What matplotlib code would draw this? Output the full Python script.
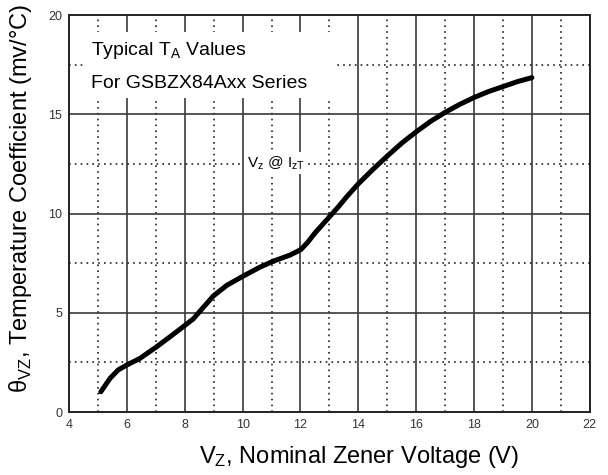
import matplotlib
matplotlib.use('Agg')
import matplotlib.pyplot as plt
from matplotlib.patches import Rectangle
import numpy as np

plt.rcParams['font.family'] = ['Liberation Sans', 'DejaVu Sans']

# curve
vz = [5.10, 5.42, 5.70, 6.0, 6.45, 7.03, 7.49, 8.02, 8.30, 8.55, 8.99, 9.45, 10.02,
      10.60, 11.06, 11.64, 12.01, 12.25, 12.50, 12.90, 13.31, 13.6, 14.0, 14.5, 15.0,
      15.5, 16.0, 16.5, 17.0, 17.5, 18.0, 18.5, 19.0, 19.5, 20.0]
theta = [1.02, 1.70, 2.12, 2.37, 2.70, 3.29, 3.79, 4.38, 4.70, 5.12, 5.85, 6.38, 6.85,
         7.30, 7.60, 7.91, 8.18, 8.55, 9.02, 9.67, 10.34, 10.85, 11.50, 12.22, 12.9,
         13.55, 14.12, 14.65, 15.1, 15.5, 15.85, 16.15, 16.4, 16.65, 16.85]

x_major = [6, 8, 10, 12, 14, 16, 18, 20]
x_minor = [5, 7, 9, 11, 13, 15, 17, 19, 21]
y_major = [5, 10, 15]
y_minor = [2.5, 7.5, 12.5, 17.5]

fig = plt.figure(figsize=(6.08, 4.75), dpi=100)
ax = fig.add_axes([0.1135, 0.1326, 0.8565, 0.8355])
ax.set_xlim(4, 22)
ax.set_ylim(0, 20)

for x in x_major:
    ax.axvline(x, color='#3a3a3a', lw=1.2, zorder=1)
for x in x_minor:
    ax.axvline(x, color='#222222', lw=1.2, ls=(0, (1, 2.5)), zorder=1)
for y in y_major:
    ax.axhline(y, color='#3a3a3a', lw=1.2, zorder=1)
for y in y_minor:
    ax.axhline(y, color='#222222', lw=1.2, ls=(0, (1, 2.5)), zorder=1)

ax.plot(vz, theta, color='black', lw=3.6, solid_capstyle='round',
        solid_joinstyle='round', zorder=3)

ax.set_xticks(np.arange(4, 23, 2))
ax.set_yticks([0, 5, 10, 15, 20])
ax.tick_params(length=0, labelsize=9, labelcolor='#333333', pad=5)
for s in ax.spines.values():
    s.set_linewidth(1.4)
    s.set_color('#222222')

# white area behind the note
ax.add_patch(Rectangle((4.5, 15.85), 8.75, 3.3, facecolor='white', edgecolor='none', zorder=2))
ax.text(4.75, 18.2, r'Typical T$_\mathregular{A}$ Values', fontsize=14,
        va='center', ha='left', zorder=4)
ax.text(4.75, 16.55, 'For GSBZX84Axx Series', fontsize=14,
        va='center', ha='left', zorder=4)
ax.text(11.15, 12.55, r'$\mathregular{V_z}$ @ $\mathregular{I_{zT}}$', fontsize=11,
        va='center', ha='center', bbox=dict(facecolor='white', edgecolor='none', pad=2), zorder=4)

ax.set_xlabel(r'$\mathregular{V_Z}$, Nominal Zener Voltage (V)', fontsize=17)
ax.xaxis.set_label_coords(0.5576, -0.08)
ax.set_ylabel(r'θ$_\mathregular{VZ}$, Temperature Coefficient (mv/°C)', fontsize=17)
ax.yaxis.set_label_coords(-0.068, 0.539)

plt.savefig('out.png', dpi=100)
